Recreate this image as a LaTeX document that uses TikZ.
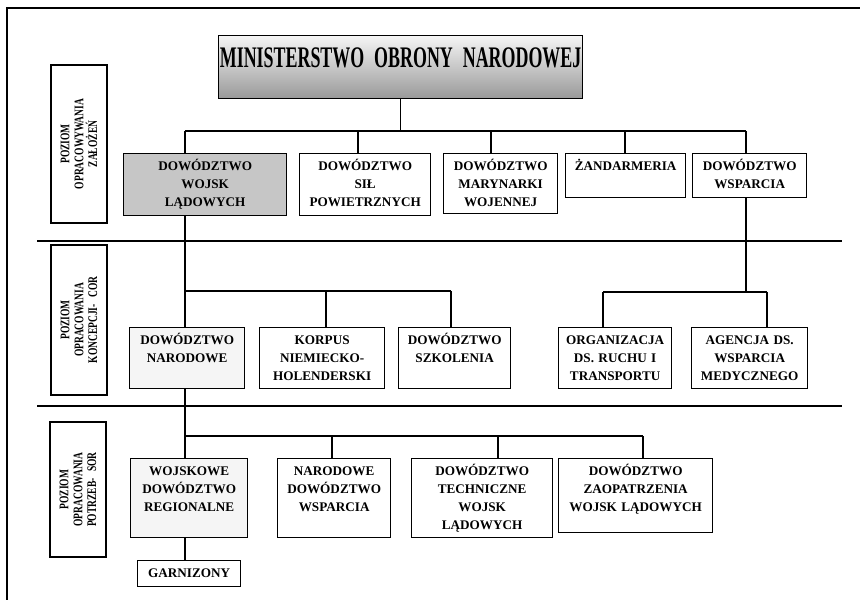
\documentclass[tikz,border=0pt]{standalone}
\usepackage{fontspec}
\setmainfont{Liberation Serif}
\newfontfamily\titlefont[FakeStretch=0.6]{Liberation Serif}
\newfontfamily\tierfont[FakeStretch=0.72]{Liberation Serif}
\newfontfamily\orgfont{Liberation Serif}
\usetikzlibrary{calc}

\tikzset{
  org/.style={draw, line width=0.75pt, anchor=north west, align=center, inner sep=0pt,
    text height=0.34cm, font=\orgfont\bfseries\fontsize{7.5}{10.2}\selectfont},
  tier/.style={draw, line width=0.75pt, rotate=90, align=center, inner sep=0pt,
    minimum height=1.12cm, font=\tierfont\bfseries\fontsize{7.5}{7.9}\selectfont},
  link/.style={line width=0.65pt},
  sep/.style={line width=1.2pt}
}

\begin{document}
\begin{tikzpicture}[x=0.02cm, y=-0.02cm]
\useasboundingbox (0,0) rectangle (860,608);

%frame
\draw[line width=0.8pt] (860,8) -- (7,8) -- (7,600);

%levels
\draw[sep] (37,241) -- (842,241);
\draw[sep] (37,406) -- (842,406);
\node[tier, minimum width=3.16cm] (lev1) at (79,144) {POZIOM\\OPRACOWYWANIA\\ZAŁOŻEŃ};
\node[tier, minimum width=3.0cm] (lev2) at (79,320) {POZIOM\\OPRACOWANIA\\KONCEPCJI-\enspace COR};
\node[tier, minimum width=2.7cm] (lev3) at (78,489.5) {POZIOM\\OPRACOWANIA\\POTRZEB-\enspace SOR};

%MON
\node[org, text width=7.28cm, text height=0.64cm, text depth=0.62cm,
  top color=gray!8, bottom color=gray!80,
  font=\titlefont\bfseries\fontsize{17}{17}\selectfont] (mon) at (218,35) {MINISTERSTWO OBRONY NARODOWEJ};

%row 1
\node[org, text width=3.26cm, text depth=0.9cm, fill=gray!45] (dwl) at (123,153) {DOWÓDZTWO\\WOJSK\\LĄDOWYCH};
\node[org, text width=2.62cm, text depth=0.9cm] (dsp) at (299,153) {DOWÓDZTWO\\SIŁ\\POWIETRZNYCH};
\node[org, text width=2.28cm, text depth=0.86cm] (dmw) at (443,153) {DOWÓDZTWO\\MARYNARKI\\WOJENNEJ};
\node[org, text width=2.40cm, text depth=0.54cm] (zan) at (565,153) {ŻANDARMERIA};
\node[org, text width=2.28cm, text depth=0.54cm] (dws) at (692,153) {DOWÓDZTWO\\WSPARCIA};

\foreach \n/\x in {dwl/185, dsp/358, dmw/491, zan/625, dws/746}
  \draw[link] (\x,131) coordinate (t-\n) -- (t-\n |- \n.north);
\draw[link] (t-dwl) -- (t-dws);
\draw[link] (mon.south) -- (mon.south |- t-dwl);

%row 2
\node[org, text width=2.30cm, text depth=0.88cm, fill=gray!8] (dn) at (129,327) {DOWÓDZTWO\\NARODOWE};
\node[org, text width=2.50cm, text depth=0.88cm] (knh) at (259,327) {KORPUS\\NIEMIECKO-\\HOLENDERSKI};
\node[org, text width=2.24cm, text depth=0.88cm] (dsz) at (398,327) {DOWÓDZTWO\\SZKOLENIA};
\node[org, text width=2.26cm, text depth=0.88cm] (odr) at (558,327) {ORGANIZACJA\\DS. RUCHU I\\TRANSPORTU};
\node[org, text width=2.32cm, text depth=0.88cm] (adw) at (691,327) {AGENCJA DS.\\WSPARCIA\\MEDYCZNEGO};

\foreach \n/\x in {dn/185, knh/326, dsz/451}
  \draw[link] (\x,291) coordinate (u-\n) -- (u-\n |- \n.north);
\draw[link] (u-dn) -- (u-dsz);
\draw[link] (t-dwl |- dwl.south) -- (u-dn);

\foreach \n/\x in {odr/603, adw/767}
  \draw[link] (\x,292) coordinate (u-\n) -- (u-\n |- \n.north);
\draw[link] (u-odr) -- (u-adw);
\draw[link] (t-dws |- dws.south) -- (t-dws |- u-odr);

%row 3
\node[org, text width=2.34cm, text depth=1.24cm, fill=gray!8] (wdr) at (130,458) {WOJSKOWE\\DOWÓDZTWO\\REGIONALNE};
\node[org, text width=2.26cm, text depth=1.24cm] (ndw) at (277,458) {NARODOWE\\DOWÓDZTWO\\WSPARCIA};
\node[org, text width=2.82cm, text depth=1.24cm] (dtw) at (411,458) {DOWÓDZTWO\\TECHNICZNE\\WOJSK\\LĄDOWYCH};
\node[org, text width=3.08cm, text depth=1.14cm] (dzw) at (558,458) {DOWÓDZTWO\\ZAOPATRZENIA\\WOJSK LĄDOWYCH};
\node[org, text width=2.06cm, text depth=0.18cm] (gar) at (137,560) {GARNIZONY};

\foreach \n/\x in {wdr/185, ndw/332, dtw/498, dzw/643}
  \draw[link] (\x,436) coordinate (v-\n) -- (v-\n |- \n.north);
\draw[link] (v-wdr) -- (v-dzw);
\draw[link] (u-dn |- dn.south) -- (v-wdr);
\draw[link] (v-wdr |- wdr.south) -- (v-wdr |- gar.north);

\end{tikzpicture}
\end{document}
